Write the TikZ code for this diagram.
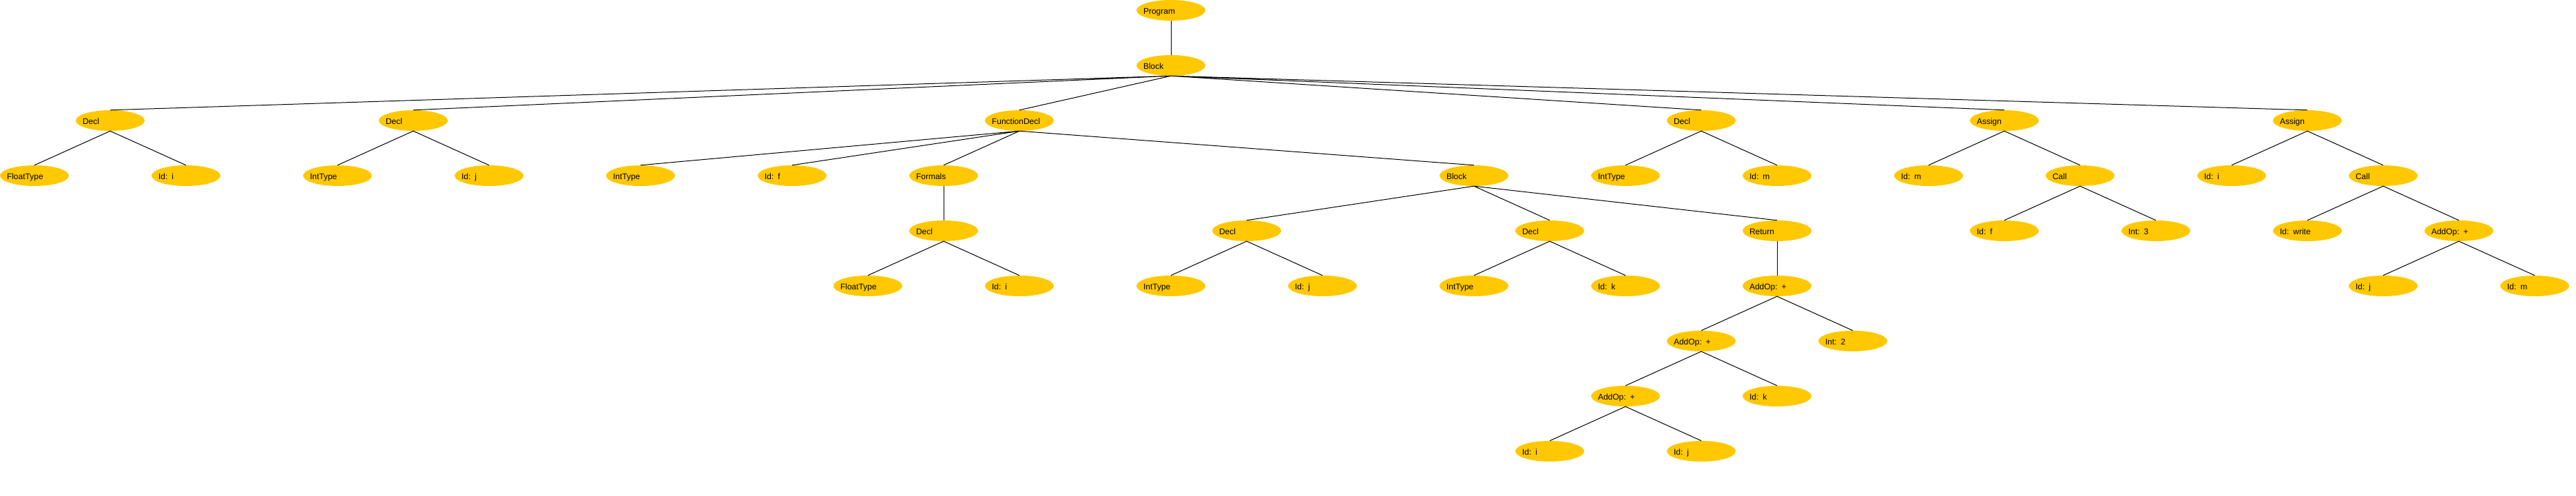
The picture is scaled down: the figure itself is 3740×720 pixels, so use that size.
\documentclass[tikz,border=0pt]{standalone}
\usepackage{fontspec}
\setmainfont{Liberation Sans}
\usetikzlibrary{shapes.geometric}
\definecolor{astorange}{RGB}{255,200,0}
\tikzset{
  astnode/.style={ellipse, fill=astorange, inner sep=0pt,
    minimum width=100pt, minimum height=30pt,
    text width=70pt, align=left, text height=10pt, text depth=0pt,
    font=\fontsize{12}{14}\selectfont,
    execute at begin node={\hspace*{-5pt}}},
  astedge/.style={line width=1pt, color=black}
}
\begin{document}
\begin{tikzpicture}[x=1pt, y=-1pt]
	\useasboundingbox (0,0) rectangle (3740,720);
	% levels 0 - 2
	\node[astnode] (prog) at (1700,15) {Program};
	\node[astnode] (blk) at (1700,95) {Block};
	\node[astnode] (decla) at (160,175) {Decl};
	\node[astnode] (declb) at (600,175) {Decl};
	\node[astnode] (fdecl) at (1480,175) {FunctionDecl};
	\node[astnode] (declc) at (2470,175) {Decl};
	\node[astnode] (asga) at (2910,175) {Assign};
	\node[astnode] (asgb) at (3350,175) {Assign};
	% level 3
	\node[astnode] (floata) at (50,255) {FloatType};
	\node[astnode] (ida) at (270,255) {Id: i};
	\node[astnode] (inta) at (490,255) {IntType};
	\node[astnode] (idb) at (710,255) {Id: j};
	\node[astnode] (intb) at (930,255) {IntType};
	\node[astnode] (idf) at (1150,255) {Id: f};
	\node[astnode] (formals) at (1370,255) {Formals};
	\node[astnode] (fblk) at (2140,255) {Block};
	\node[astnode] (intc) at (2360,255) {IntType};
	\node[astnode] (idm) at (2580,255) {Id: m};
	\node[astnode] (idma) at (2800,255) {Id: m};
	\node[astnode] (calla) at (3020,255) {Call};
	\node[astnode] (idib) at (3240,255) {Id: i};
	\node[astnode] (callb) at (3460,255) {Call};
	% level 4
	\node[astnode] (pdecl) at (1370,335) {Decl};
	\node[astnode] (decld) at (1810,335) {Decl};
	\node[astnode] (decle) at (2250,335) {Decl};
	\node[astnode] (ret) at (2580,335) {Return};
	\node[astnode] (idfb) at (2910,335) {Id: f};
	\node[astnode] (intval) at (3130,335) {Int: 3};
	\node[astnode] (idw) at (3350,335) {Id: write};
	\node[astnode] (adda) at (3570,335) {AddOp: +};
	% level 5
	\node[astnode] (floatb) at (1260,415) {FloatType};
	\node[astnode] (idpi) at (1480,415) {Id: i};
	\node[astnode] (intd) at (1700,415) {IntType};
	\node[astnode] (idj) at (1920,415) {Id: j};
	\node[astnode] (inte) at (2140,415) {IntType};
	\node[astnode] (idk) at (2360,415) {Id: k};
	\node[astnode] (addb) at (2580,415) {AddOp: +};
	\node[astnode] (idjb) at (3460,415) {Id: j};
	\node[astnode] (idmb) at (3680,415) {Id: m};
	% levels 6 - 8
	\node[astnode] (addc) at (2470,495) {AddOp: +};
	\node[astnode] (inttwo) at (2690,495) {Int: 2};
	\node[astnode] (addd) at (2360,575) {AddOp: +};
	\node[astnode] (idkb) at (2580,575) {Id: k};
	\node[astnode] (idic) at (2250,655) {Id: i};
	\node[astnode] (idjc) at (2470,655) {Id: j};
	% edges
	\draw[astedge] (prog.south) -- (blk.north);
	\draw[astedge] (blk.south) -- (decla.north) (blk.south) -- (declb.north)
		(blk.south) -- (fdecl.north) (blk.south) -- (declc.north)
		(blk.south) -- (asga.north) (blk.south) -- (asgb.north);
	\draw[astedge] (decla.south) -- (floata.north) (decla.south) -- (ida.north);
	\draw[astedge] (declb.south) -- (inta.north) (declb.south) -- (idb.north);
	\draw[astedge] (fdecl.south) -- (intb.north) (fdecl.south) -- (idf.north)
		(fdecl.south) -- (formals.north) (fdecl.south) -- (fblk.north);
	\draw[astedge] (formals.south) -- (pdecl.north);
	\draw[astedge] (pdecl.south) -- (floatb.north) (pdecl.south) -- (idpi.north);
	\draw[astedge] (fblk.south) -- (decld.north) (fblk.south) -- (decle.north)
		(fblk.south) -- (ret.north);
	\draw[astedge] (decld.south) -- (intd.north) (decld.south) -- (idj.north);
	\draw[astedge] (decle.south) -- (inte.north) (decle.south) -- (idk.north);
	\draw[astedge] (ret.south) -- (addb.north);
	\draw[astedge] (addb.south) -- (addc.north) (addb.south) -- (inttwo.north);
	\draw[astedge] (addc.south) -- (addd.north) (addc.south) -- (idkb.north);
	\draw[astedge] (addd.south) -- (idic.north) (addd.south) -- (idjc.north);
	\draw[astedge] (declc.south) -- (intc.north) (declc.south) -- (idm.north);
	\draw[astedge] (asga.south) -- (idma.north) (asga.south) -- (calla.north);
	\draw[astedge] (calla.south) -- (idfb.north) (calla.south) -- (intval.north);
	\draw[astedge] (asgb.south) -- (idib.north) (asgb.south) -- (callb.north);
	\draw[astedge] (callb.south) -- (idw.north) (callb.south) -- (adda.north);
	\draw[astedge] (adda.south) -- (idjb.north) (adda.south) -- (idmb.north);
\end{tikzpicture}
\end{document}
